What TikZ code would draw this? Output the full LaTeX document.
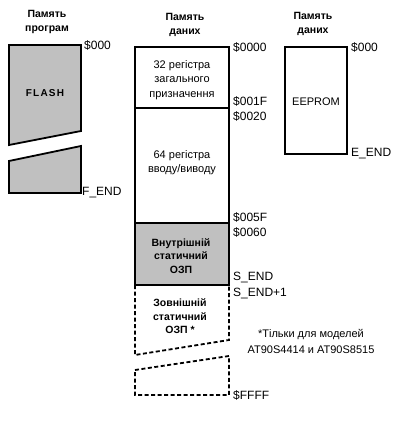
\documentclass[tikz,border=0pt]{standalone}
\usepackage{fontspec}
\setmainfont{Liberation Sans}
\newfontfamily\widefont[LetterSpace=12]{Liberation Sans}
\definecolor{memgrey}{RGB}{192,192,192}
\tikzset{
  membox/.style={draw=black, line width=1.8pt, line join=miter},
  memgreybox/.style={membox, fill=memgrey},
  memdash/.style={draw=black, line width=1.8pt, dash pattern=on 4pt off 2.5pt},
  title/.style={font=\bfseries\fontsize{10.5}{14}\selectfont, align=center, inner sep=0pt},
  addr/.style={font=\fontsize{12}{13}\selectfont, anchor=west, inner sep=0pt},
  inner/.style={font=\fontsize{11}{14.5}\selectfont, align=center, inner sep=0pt},
  innerbold/.style={font=\bfseries\fontsize{10.5}{13.5}\selectfont, align=center, inner sep=0pt},
}
\begin{document}
\begin{tikzpicture}[x=1pt,y=-1pt]
\useasboundingbox[fill=white] (0,0) rectangle (410,430);

% titles
\node[title] (t1) at (47,22) {Память\\програм};
\node[title] (t2) at (185,24.5) {Память\\даних};
\node[title] (t3) at (313,23.5) {Память\\даних};

% program memory
\draw[memgreybox] (9,45) -- (81,45) -- (81,131) -- (9,145) -- cycle;
\draw[memgreybox] (9,161) -- (81,146) -- (81,193) -- (9,193) -- cycle;
\node[font=\widefont\bfseries\fontsize{10}{12}\selectfont, inner sep=0pt] (flash) at (45,93) {FLASH};
\node[addr] (a1) at (84,45) {\$000};
\node[addr] (a2) at (82,193) {F\_END};

% data memory
\draw[membox, fill=white] (135,47) rectangle (229,223);
\draw[membox] (135,108) -- (229,108);
\draw[memgreybox] (135,223) rectangle (229,285);
\draw[memdash] (135,285) -- (135,355) -- (229,340) -- (229,285);
\draw[memdash] (135,370) -- (229,356) -- (229,395) -- (135,395) -- cycle;

\node[inner] (r32) at (182,80) {32 регістра\\загального\\призначення};
\node[inner] (r64) at (182,162.5) {64 регістра\\вводу/виводу};
\node[innerbold] (int) at (181,256) {Внутрішній\\статичний\\ОЗП};
\node[innerbold] (ext) at (180,316.5) {Зовнішній\\статичний\\ОЗП *};

\node[addr] (d0) at (233,47) {\$0000};
\node[addr] (d1) at (233,101) {\$001F};
\node[addr] (d2) at (233,116) {\$0020};
\node[addr] (d3) at (233,217) {\$005F};
\node[addr] (d4) at (233,232) {\$0060};
\node[addr] (d5) at (233,278) {S\_END};
\node[addr] (d6) at (233,294) {S\_END+1};
\node[addr] (d7) at (233,395) {\$FFFF};

% EEPROM
\draw[membox, fill=white] (285,47) rectangle (347,154);
\node[font=\fontsize{11}{13}\selectfont, inner sep=0pt] (ee) at (316,102) {EEPROM};
\node[addr] (e0) at (351,47) {\$000};
\node[addr] (e1) at (351,154) {E\_END};

% note
\node[font=\fontsize{11}{16}\selectfont, align=center, inner sep=0pt] (note) at (311,341) {*Тільки для моделей\\AT90S4414 и AT90S8515};
\end{tikzpicture}
\end{document}
